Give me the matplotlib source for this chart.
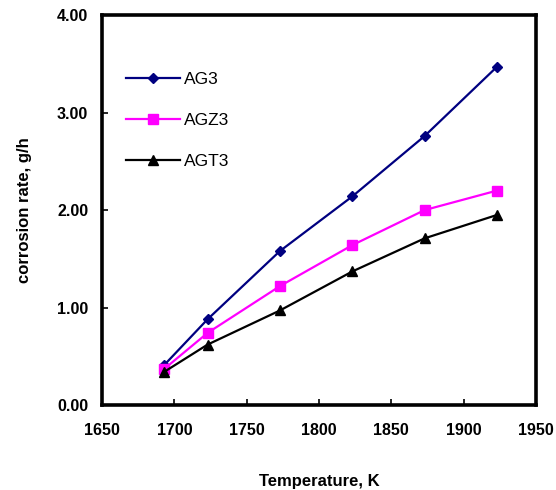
import matplotlib

matplotlib.use("Agg")

import matplotlib.pyplot as plt
from matplotlib.ticker import FormatStrFormatter

plt.rcParams["font.family"] = ["Liberation Sans", "DejaVu Sans"]

temperature = [1693, 1723, 1773, 1823, 1873, 1923]
ag3 = [0.41, 0.88, 1.58, 2.14, 2.76, 3.47]
agz3 = [0.37, 0.74, 1.22, 1.64, 2.00, 2.20]
agt3 = [0.34, 0.62, 0.97, 1.37, 1.71, 1.95]

x_ticks = [1650, 1700, 1750, 1800, 1850, 1900, 1950]
y_ticks = [0.0, 1.0, 2.0, 3.0, 4.0]

fig = plt.figure(figsize=(5.56, 4.90), dpi=100)
ax = fig.add_axes([0.1835, 0.1735, 0.7805, 0.7955])

ax.plot(temperature, ag3, color="#000080", lw=1.6, marker="D", ms=5.5, label="AG3")
ax.plot(temperature, agz3, color="#FF00FF", lw=1.6, marker="s", ms=6.5, label="AGZ3")
ax.plot(temperature, agt3, color="black", lw=1.6, marker="^", ms=6.5, label="AGT3")

ax.set_xlim(1650, 1950)
ax.set_ylim(0, 4)
ax.set_xticks(x_ticks)
ax.set_yticks(y_ticks)
ax.yaxis.set_major_formatter(FormatStrFormatter("%.2f"))
ax.tick_params(direction="in", length=4, width=1.2, labelsize=11.5)
ax.tick_params(axis="x", pad=13)
ax.tick_params(axis="y", pad=10)
for lbl in ax.get_xticklabels() + ax.get_yticklabels():
    lbl.set_fontweight("bold")
for sp in ax.spines.values():
    sp.set_linewidth(2.6)

ax.set_xlabel("Temperature, K", fontsize=12, fontweight="bold", labelpad=26)
ax.set_ylabel("corrosion rate, g/h", fontsize=12, fontweight="bold", labelpad=18)

ax.legend(loc="upper left", bbox_to_anchor=(0.019, 0.895), frameon=False,
          fontsize=12.5, handlelength=3.1, labelspacing=1.5, handletextpad=0.25)

fig.savefig("out.png", dpi=100, facecolor="white")
